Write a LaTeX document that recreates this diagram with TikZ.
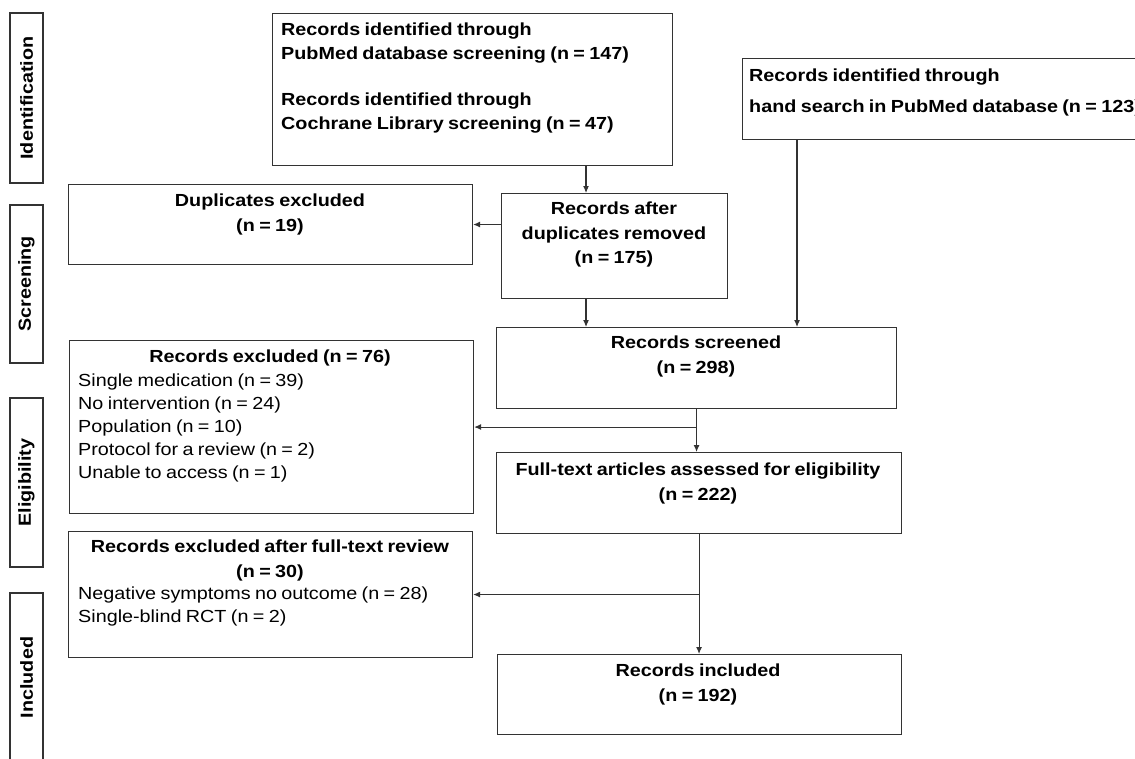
\documentclass[tikz,border=0pt]{standalone}
\usepackage{fontspec}
\setmainfont{Liberation Sans}[FakeStretch=1.13,WordSpace=0.8]
\usepackage{tikz}
\usetikzlibrary{arrows.meta}
\tikzstyle{stagebox}=[draw=black!80,line width=1.1pt,rotate=90,minimum height=33pt,inner sep=0pt,font=\fontsize{17.5pt}{24pt}\selectfont\bfseries]
\tikzstyle{flowbox}=[draw=black!80,line width=1.1pt,anchor=north west,inner sep=0pt]
\tikzstyle{boxhead}=[anchor=north,inner sep=0pt,align=center,font=\fontsize{17.5pt}{24.5pt}\selectfont\bfseries]
\tikzstyle{boxlist}=[anchor=north west,inner sep=0pt,align=left,font=\fontsize{17.5pt}{23pt}\selectfont]
\tikzstyle{boldlist}=[boxlist,font=\fontsize{17.5pt}{24pt}\selectfont\bfseries]
\tikzstyle{flowarrow}=[draw=black!80,line width=1.1pt,-{Latex[length=7pt,width=6pt]}]

\begin{document}
\begin{tikzpicture}[x=1pt,y=-1pt]
\useasboundingbox (0,0) rectangle (1135,758);
\clip (0,0) rectangle (1135,758);

% stages on the left
\node[stagebox,minimum width=170pt] (ident) at (26.5,98) {Identification};
\node[stagebox,minimum width=158pt] (screening) at (26.5,284) {Screening};
\node[stagebox,minimum width=169pt] (elig) at (26.5,482.5) {Eligibility};
\node[stagebox,minimum width=169pt] (included) at (26.5,677.5) {Included};

% boxes
\node[flowbox,minimum width=400pt,minimum height=152pt] (pubmed) at (272,13) {};
\node[flowbox,minimum width=420pt,minimum height=81pt] (hand) at (742,58) {};
\node[flowbox,minimum width=404pt,minimum height=80pt] (dupl) at (68,184) {};
\node[flowbox,minimum width=226pt,minimum height=105pt] (nodup) at (501,193) {};
\node[flowbox,minimum width=400pt,minimum height=81pt] (screen) at (496,327) {};
\node[flowbox,minimum width=404pt,minimum height=173pt] (excl) at (69,340) {};
\node[flowbox,minimum width=405pt,minimum height=81pt] (fulltext) at (496,452) {};
\node[flowbox,minimum width=404pt,minimum height=126pt] (exclft) at (68,531) {};
\node[flowbox,minimum width=404pt,minimum height=80pt] (incl) at (497,654) {};

% texts
\node[boldlist] (pubmedtxt) at (281,23) {Records identified through\\PubMed database screening (n = 147)\\[22pt]Records identified through\\Cochrane Library screening (n = 47)};
\node[boldlist] (handtxt) at (749,69) {Records identified through\\[7pt]hand search in PubMed database (n = 123)};
\node[boxhead] (dupltxt) at (270,194) {Duplicates excluded\\(n = 19)};
\node[boxhead] (noduptxt) at (614,202) {Records after\\duplicates removed\\(n = 175)};
\node[boxhead] (screentxt) at (696,336) {Records screened\\(n = 298)};
\node[boxhead] (exclhead) at (270,350) {Records excluded (n = 76)};
\node[boxlist] (excltxt) at (78,374) {Single medication (n = 39)\\No intervention (n = 24)\\Population (n = 10)\\Protocol for a review (n = 2)\\Unable to access (n = 1)};
\node[boxhead] (fulltxt) at (698,463) {Full-text articles assessed for eligibility\\(n = 222)};
\node[boxhead] (exclfthead) at (270,540) {Records excluded after full-text review\\(n = 30)};
\node[boxlist] (exclfttxt) at (78,587) {Negative symptoms no outcome (n = 28)\\Single-blind RCT (n = 2)};
\node[boxhead] (incltxt) at (698,664) {Records included\\(n = 192)};

% connectors
\coordinate (leftfeed) at (586,0);
\coordinate (handfeed) at (797,0);
\draw[flowarrow] (pubmed.south -| leftfeed) -- (nodup.north -| leftfeed);
\draw[flowarrow] (nodup.west |- dupl.east) -- (dupl.east);
\draw[flowarrow] (nodup.south -| leftfeed) -- (screen.north -| leftfeed);
\draw[flowarrow] (hand.south -| handfeed) -- (screen.north -| handfeed);
\draw[flowarrow] (screen.south) -- (fulltext.north -| screen.south);
\draw[flowarrow] (excl.east -| screen.south) -- (excl.east);
\draw[flowarrow] (fulltext.south) -- (incl.north -| fulltext.south);
\draw[flowarrow] (exclft.east -| fulltext.south) -- (exclft.east);
\end{tikzpicture}
\end{document}
